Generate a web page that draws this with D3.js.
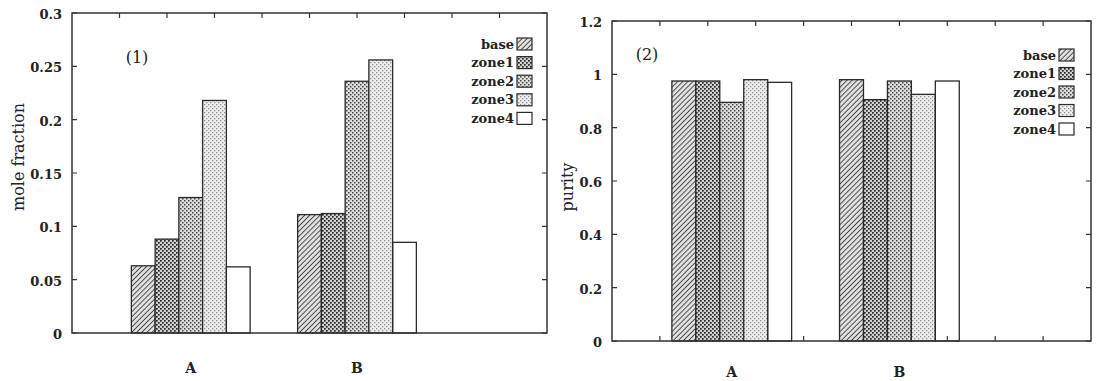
<!DOCTYPE html>
<html lang="en">
	<head>
		<meta charset="utf-8">
		<title>mole fraction and purity</title>
		<script type="text/javascript" src="https://cdn.jsdelivr.net/npm/d3@7"></script>
		<style>
			body { margin: 0; background: #fff; }
			text { font-family: "DejaVu Serif", serif; fill: #222; }
			.tick-label { font-size: 13px; font-weight: bold; }
			.legend text { font-size: 13px; font-weight: bold; }
		</style>
	</head>
	<body>
		<script type="text/javascript">

			// categories and series
			var groups = ["A", "B"];
			var zones = ["base", "zone1", "zone2", "zone3", "zone4"];

			// panel (1): mole fraction, one row per group
			var moleFractionA = [0.063, 0.088, 0.127, 0.218, 0.062];
			var moleFractionB = [0.111, 0.112, 0.236, 0.256, 0.085];

			// panel (2): purity
			var purityA = [0.975, 0.975, 0.895, 0.98, 0.97];
			var purityB = [0.98, 0.905, 0.975, 0.925, 0.975];

			// tick values
			var moleTicks = [0, 0.05, 0.1, 0.15, 0.2, 0.25, 0.3];
			var purityTicks = [0, 0.2, 0.4, 0.6, 0.8, 1, 1.2];

			var w = 1097;
			var h = 381;

			var svg = d3.select("body")
				.append("svg")
				.attr("width", w)
				.attr("height", h);

			// fill patterns
			var defs = svg.append("defs");

			var hatch = defs.append("pattern")
				.attr("id", "p-base")
				.attr("patternUnits", "userSpaceOnUse")
				.attr("width", 3.6)
				.attr("height", 3.6)
				.attr("patternTransform", "rotate(45)");
			hatch.append("rect").attr("width", 3.6).attr("height", 3.6).attr("fill", "#e0e0e0");
			hatch.append("line")
				.attr("x1", 0).attr("y1", 0).attr("x2", 0).attr("y2", 3.6)
				.attr("stroke", "#222").attr("stroke-width", 1.5);

			function dots(id, bg, dot, r) {
				var p = defs.append("pattern")
					.attr("id", id)
					.attr("patternUnits", "userSpaceOnUse")
					.attr("width", 4)
					.attr("height", 4);
				p.append("rect").attr("width", 4).attr("height", 4).attr("fill", bg);
				p.append("rect").attr("x", 0).attr("y", 0).attr("width", r).attr("height", r).attr("fill", dot);
				p.append("rect").attr("x", 2).attr("y", 2).attr("width", r).attr("height", r).attr("fill", dot);
			}
			dots("p-zone1", "#d0d0d0", "#262626", 1.7);
			dots("p-zone2", "#dcdcdc", "#484848", 1.5);
			dots("p-zone3", "#eeeeee", "#939393", 1.3);

			var fills = ["url(#p-base)", "url(#p-zone1)", "url(#p-zone2)", "url(#p-zone3)", "none"];

			// x position of each group centre on the 0..10 axis
			var groupX = [2.5, 6];
			var barW = 0.5;

			function drawPanel(cfg) {
				var g = svg.append("g");

				var xScale = d3.scaleLinear()
					.domain([0, 10])
					.range([cfg.left, cfg.right]);

				var yScale = d3.scaleLinear()
					.domain([0, cfg.yMax])
					.range([cfg.bottom, cfg.top]);

				var tickLen = 5;

				// y ticks on both sides
				g.selectAll(".ytick")
					.data(cfg.yTicks)
					.enter()
					.append("path")
					.attr("d", function(d) {
						var y = yScale(d);
						return "M" + cfg.left + "," + y + "h" + tickLen +
							"M" + cfg.right + "," + y + "h" + (-tickLen);
					})
					.attr("stroke", "#333")
					.attr("stroke-width", 1.2);

				g.selectAll(".ylab")
					.data(cfg.yTicks)
					.enter()
					.append("text")
					.attr("class", "tick-label")
					.attr("x", cfg.left - 10)
					.attr("y", function(d) { return yScale(d) + 6; })
					.attr("text-anchor", "end")
					.text(function(d) { return String(+d.toFixed(2)); });

				// x ticks, top (and bottom on panel 2)
				var xt = d3.range(1, 10);
				g.selectAll(".xtick")
					.data(xt)
					.enter()
					.append("path")
					.attr("d", function(d) {
						var x = xScale(d);
						var s = "M" + x + "," + cfg.top + "v" + tickLen;
						if (cfg.bottomTicks) s += "M" + x + "," + cfg.bottom + "v" + (-tickLen);
						return s;
					})
					.attr("stroke", "#333")
					.attr("stroke-width", 1.2);

				// bars
				groups.forEach(function(grp, gi) {
					var vals = cfg.values[gi];
					var x0 = groupX[gi] - barW * zones.length / 2;
					g.selectAll(".bar-" + grp)
						.data(vals)
						.enter()
						.append("rect")
						.attr("x", function(d, i) { return xScale(x0 + i * barW); })
						.attr("y", function(d) { return yScale(d); })
						.attr("width", xScale(barW) - xScale(0))
						.attr("height", function(d) { return yScale(0) - yScale(d); })
						.attr("fill", function(d, i) { return fills[i]; })
						.attr("stroke", "#2a2a2a")
						.attr("stroke-width", 1.3);

					g.append("text")
						.attr("class", "tick-label")
						.attr("x", xScale(groupX[gi]))
						.attr("y", cfg.catY)
						.attr("text-anchor", "middle")
						.style("font-size", "14px")
						.text(grp);
				});

				// frame
				g.append("rect")
					.attr("x", cfg.left)
					.attr("y", cfg.top)
					.attr("width", cfg.right - cfg.left)
					.attr("height", cfg.bottom - cfg.top)
					.attr("fill", "none")
					.attr("stroke", "#333")
					.attr("stroke-width", 1.5);

				// axis title
				g.append("text")
					.attr("transform", "translate(" + cfg.titleX + "," + cfg.titleY + ") rotate(-90)")
					.attr("text-anchor", "middle")
					.attr("dy", "0.35em")
					.style("font-size", "16px")
					.text(cfg.yLabel);

				// panel tag
				g.append("text")
					.attr("x", cfg.tagX)
					.attr("y", cfg.tagY)
					.attr("text-anchor", "middle")
					.attr("dy", "0.35em")
					.style("font-size", "16px")
					.text(cfg.tag);

				// legend
				var leg = g.append("g").attr("class", "legend");
				zones.forEach(function(z, i) {
					var cy = cfg.legY + i * cfg.legStep;
					leg.append("text")
						.attr("x", cfg.legX - 3)
						.attr("y", cy)
						.attr("dy", "0.35em")
						.attr("text-anchor", "end")
						.text(z);
					leg.append("rect")
						.attr("x", cfg.legX)
						.attr("y", cy - 6)
						.attr("width", 15)
						.attr("height", 12)
						.attr("fill", fills[i] == "none" ? "#fff" : fills[i])
						.attr("stroke", "#2a2a2a")
						.attr("stroke-width", 1.2);
				});
			}

			drawPanel({
				left: 72, right: 547, top: 13, bottom: 333,
				yMax: 0.3, yTicks: moleTicks,
				values: [moleFractionA, moleFractionB],
				bottomTicks: false, catY: 373,
				yLabel: "mole fraction", titleX: 18, titleY: 157,
				tag: "(1)", tagX: 137, tagY: 57,
				legX: 517, legY: 44, legStep: 18.6
			});

			drawPanel({
				left: 612, right: 1091, top: 21, bottom: 341,
				yMax: 1.2, yTicks: purityTicks,
				values: [purityA, purityB],
				bottomTicks: true, catY: 377,
				yLabel: "purity", titleX: 567, titleY: 187,
				tag: "(2)", tagX: 647, tagY: 54,
				legX: 1059, legY: 55, legStep: 18.5
			});

		</script>
	</body>
</html>
